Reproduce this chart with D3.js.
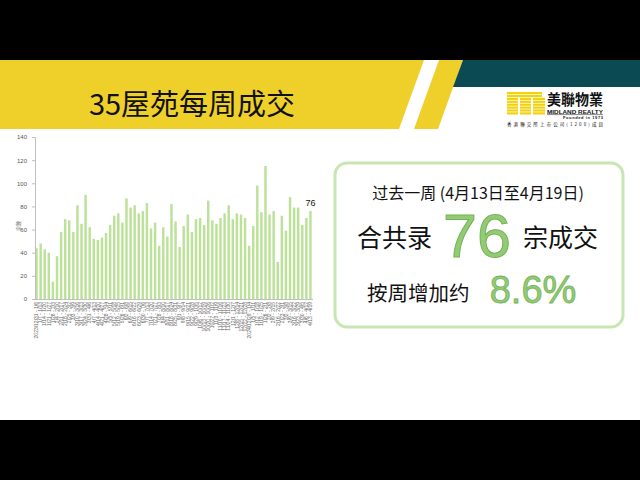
<!DOCTYPE html>
<html><head><meta charset="utf-8">
<script src="https://cdn.jsdelivr.net/npm/d3@7"></script>
<style>body{margin:0;background:#fff}svg{display:block}</style>
</head><body>
<svg id="c" width="640" height="480"></svg>
<script>
// ---------- data ----------
const weeks = [
"2023/12/31 - 1/6","1/7 - 1/13","1/14 - 1/20","1/21 - 1/27","1/28 - 2/3","2/4 - 2/10","2/11 - 2/17","2/18 - 2/24",
"2/25 - 3/2","3/3 - 3/9","3/10 - 3/16","3/17 - 3/23","3/24 - 3/30","3/31 - 4/6","4/7 - 4/13","4/14 - 4/20",
"4/21 - 4/27","4/28 - 5/4","5/5 - 5/11","5/12 - 5/18","5/19 - 5/25","5/26 - 6/1","6/2 - 6/8","6/9 - 6/15",
"6/16 - 6/22","6/23 - 6/29","6/30 - 7/6","7/7 - 7/13","7/14 - 7/20","7/21 - 7/27","7/28 - 8/3","8/4 - 8/10",
"8/11 - 8/17","8/18 - 8/24","8/25 - 8/31","9/1 - 9/7","9/8 - 9/14","9/15 - 9/21","9/22 - 9/28","9/29 - 10/5",
"10/6 - 10/12","10/13 - 10/19","10/20 - 10/26","10/27 - 11/2","11/3 - 11/9","11/10 - 11/16","11/17 - 11/23","11/24 - 11/30",
"12/1 - 12/7","12/8 - 12/14","12/15 - 12/21","12/22 - 12/28","2024/12/29 - 1/4","1/5 - 1/11","1/12 - 1/18","1/19 - 1/25",
"1/26 - 2/1","2/2 - 2/8","2/9 - 2/15","2/16 - 2/22","2/23 - 3/1","3/2 - 3/8","3/9 - 3/15","3/16 - 3/22",
"3/23 - 3/29","3/30 - 4/5","4/6 - 4/12","4/13 - 4/19"];
const deals = [
44,48,43,40,15,37,58,69,68,58,81,65,90,62,52,51,53,57,64,72,74,66,87,79,81,74,76,83,
61,66,46,62,54,82,67,45,63,73,58,69,70,64,85,68,65,70,74,81,69,74,73,70,46,63,98,75,
115,73,76,32,72,59,88,79,79,64,70,76];
const yTicks = [0,20,40,60,80,100,120,140];
const titleText = "35屋苑每周成交";
const yAxisTitle = "宗數";
const periodText = "过去一周 (4月13日至4月19日)";
const totalPre = "合共录", totalPost = "宗成交";
const totalValue = "76";
const changePre = "按周增加约", changeValue = "8.6%";

// ---------- drawing ----------
const svg = d3.select("#c");
const cjk = "'Noto Sans CJK SC','Noto Sans CJK TC',sans-serif";
const latin = "'Liberation Sans',Arial,sans-serif";

// header bands
svg.append("rect").attr("x",0).attr("y",0).attr("width",640).attr("height",60).attr("fill","#000");
svg.append("rect").attr("x",0).attr("y",420).attr("width",640).attr("height",60).attr("fill","#000");
svg.append("polygon").attr("points","0,60 424,60 399,129 0,129").attr("fill","#efd02a");
svg.append("polygon").attr("points","439,60 463,60 438,129 414,129").attr("fill","#efd02a");
svg.append("polygon").attr("points","463,60 640,60 640,87 453,87").attr("fill","#0b4953");

svg.append("text").attr("x",192).attr("y",115).attr("text-anchor","middle")
  .style("font-family",cjk).style("font-size","29px").attr("fill","#111").text(titleText);

// logo
const logo = svg.append("g");
for (let i = 0; i < 8; i++) {
  const yy = 92 + i*2.9;
  const segs = i < 2 ? [[507,542]] : [[507,518],[520,531],[533,545]];
  segs.forEach(s => logo.append("rect").attr("x",s[0]).attr("y",yy).attr("width",s[1]-s[0]).attr("height",2.2).attr("fill","#f2d20c"));
}
logo.append("text").attr("x",547).attr("y",104.5).attr("textLength",56).attr("lengthAdjust","spacingAndGlyphs")
  .style("font-family","'Noto Sans CJK TC',sans-serif").style("font-weight","bold").style("font-size","15px").attr("fill","#111").text("美聯物業");
logo.append("text").attr("x",547).attr("y",113.5).attr("textLength",56).attr("lengthAdjust","spacingAndGlyphs")
  .style("font-family",latin).style("font-weight","bold").style("font-size","4.5px").attr("fill","#111").text("MIDLAND REALTY");
logo.append("line").attr("x1",547).attr("x2",603).attr("y1",114.6).attr("y2",114.6).attr("stroke","#111").attr("stroke-width",0.5);
logo.append("text").attr("x",563).attr("y",119).attr("textLength",40).attr("lengthAdjust","spacing")
  .style("font-family",latin).style("font-weight","bold").style("font-size","4px").attr("fill","#111").text("Founded in 1973");
logo.append("text").attr("x",507).attr("y",126).attr("textLength",96).attr("lengthAdjust","spacing")
  .style("font-family","'Noto Sans CJK TC',sans-serif").style("font-size","4.5px").attr("fill","#222").text("香港聯交所上市公司(1200)成員");

// chart
const x = d3.scaleBand().domain(weeks).range([34.5, 312.5]).paddingInner(0.4).paddingOuter(0.2);
const y = d3.scaleLinear().domain([0,140]).range([299,137]);

svg.append("g").selectAll("rect").data(deals).join("rect")
  .attr("x",(d,i)=>x(weeks[i])).attr("width",x.bandwidth())
  .attr("y",d=>y(d)).attr("height",d=>y(0)-y(d)).attr("fill","#bce199");

const ya = svg.append("g").attr("transform","translate(35,0)")
  .call(d3.axisLeft(y).tickValues(yTicks).tickSize(3).tickPadding(5));
ya.select(".domain").attr("stroke","#bfbfbf");
ya.selectAll(".tick line").attr("stroke","#bfbfbf");
ya.selectAll("text").style("font-family",latin).style("font-size","6px").attr("fill","#555");

const xa = svg.append("g").attr("transform","translate(0,299)")
  .call(d3.axisBottom(x).tickSize(0).tickSizeOuter(0));
xa.select(".domain").attr("stroke","#bfbfbf");
xa.selectAll("text").attr("transform","rotate(-90)").attr("x",-3).attr("y",0).attr("dy","0.35em")
  .style("text-anchor","end").style("font-family",latin).style("font-size","5px").attr("fill","#666");

svg.append("text").attr("transform","translate(20,226) rotate(-90)").attr("text-anchor","middle")
  .style("font-family","'Noto Sans CJK TC',sans-serif").style("font-size","5px").attr("fill","#777").text(yAxisTitle);

const last = deals.length - 1;
svg.append("text").attr("x",x(weeks[last])+x.bandwidth()/2).attr("y",y(deals[last])-5).attr("text-anchor","middle")
  .style("font-family",latin).style("font-size","9px").attr("fill","#111").text(deals[last]);

// summary panel
svg.append("rect").attr("x",335).attr("y",163).attr("width",288).attr("height",164).attr("rx",12)
  .attr("fill","#fff").attr("stroke","#c9e6b2").attr("stroke-width",3);
svg.append("text").attr("x",478).attr("y",199).attr("text-anchor","middle")
  .style("font-family",cjk).style("font-size","16px").attr("fill","#111").text(periodText);
svg.append("text").attr("x",357).attr("y",247)
  .style("font-family",cjk).style("font-size","25px").attr("fill","#111").text(totalPre);
svg.append("text").attr("x",477).attr("y",257).attr("text-anchor","middle")
  .style("font-family",latin).style("font-size","61px").attr("fill","#93cb74").attr("stroke","#74b257").attr("stroke-width",1).text(totalValue);
svg.append("text").attr("x",523).attr("y",247)
  .style("font-family",cjk).style("font-size","25px").attr("fill","#111").text(totalPost);
svg.append("text").attr("x",367).attr("y",301)
  .style("font-family",cjk).style("font-size","20.5px").attr("fill","#111").text(changePre);
svg.append("text").attr("x",533).attr("y",303).attr("text-anchor","middle")
  .style("font-family",latin).style("font-size","38px").attr("fill","#93cb74").attr("stroke","#74b257").attr("stroke-width",0.8).text(changeValue);
</script>
</body></html>
